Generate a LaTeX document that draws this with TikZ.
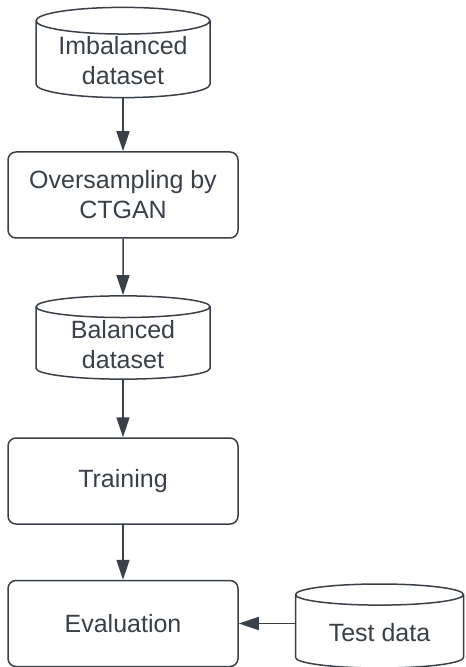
\documentclass[tikz,border=0pt]{standalone}
\usepackage{fontspec}
\setmainfont{Liberation Sans}
\usepackage{tikz}
\usetikzlibrary{shapes.geometric, arrows.meta, positioning}

\definecolor{ink}{HTML}{3A4048}

\begin{document}
\begin{tikzpicture}[
	x=1pt, y=1pt,
	every node/.style={text=ink, font=\fontsize{12.5pt}{15pt}\selectfont, align=center},
	box/.style={draw=ink, line width=0.75pt, rounded corners=4pt, minimum width=115pt, minimum height=43pt},
	db/.style={draw=ink, line width=0.75pt, cylinder, shape border rotate=90, aspect=0.2, anchor=shape center, inner sep=1pt, minimum width=87pt, minimum height=38.2pt},
	arr/.style={draw=ink, line width=0.75pt, -{Triangle[length=10pt, width=6.5pt]}}
]
	\useasboundingbox (0,0) rectangle (232.5,-333.5);
	% Pipeline, top to bottom
	\node[db] (imb) at (61.5,-26.25) {Imbalanced\\dataset};
	\node[box] (over) at (61.5,-97.5) {Oversampling by\\CTGAN};
	\node[db] (bal) at (61.5,-168.75) {Balanced\\dataset};
	\node[box] (train) at (61.5,-240.5) {Training};
	\node[box] (eval) at (61.5,-311.75) {Evaluation};
	% Separate test set
	\node[db, minimum width=84pt, minimum height=42pt] (test) at (189.75,-313) {Test data};
	\draw[arr] (imb) -- (over);
	\draw[arr] (over) -- (bal);
	\draw[arr] (bal) -- (train);
	\draw[arr] (train) -- (eval);
	\draw[arr] (eval.east -| test.west) -- (eval.east);
\end{tikzpicture}
\end{document}
